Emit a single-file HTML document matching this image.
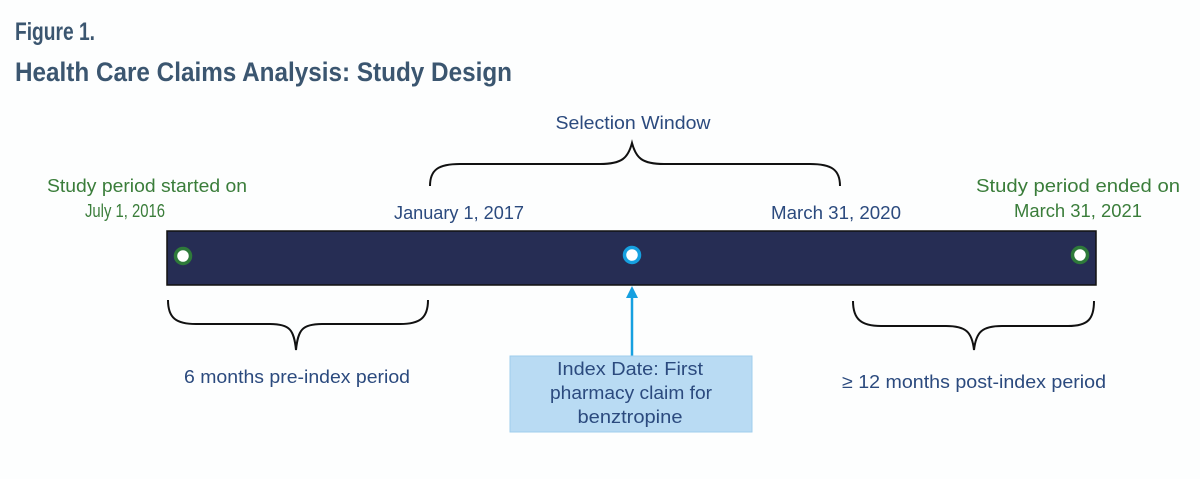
<!DOCTYPE html>
<html><head><style>
body{margin:0;background:#fdfefe;}
svg{display:block}
text{font-family:"Liberation Sans",sans-serif;}
</style></head><body>
<svg width="1200" height="479" viewBox="0 0 1200 479">
<rect width="1200" height="479" fill="#fdfefe"/>
<text x="15" y="40" font-size="25" font-weight="bold" fill="#3b5670" textLength="80" lengthAdjust="spacingAndGlyphs">Figure 1.</text>
<text x="15" y="81" font-size="27" font-weight="bold" fill="#3b5670" textLength="497" lengthAdjust="spacingAndGlyphs">Health Care Claims Analysis: Study Design</text>
<g font-size="18.5">
<text x="633" y="129" text-anchor="middle" fill="#2b4a7e" textLength="155" lengthAdjust="spacingAndGlyphs">Selection Window</text>
<text x="147" y="192" text-anchor="middle" fill="#3a7d3a" textLength="200" lengthAdjust="spacingAndGlyphs">Study period started on</text>
<text x="125" y="217" text-anchor="middle" fill="#3a7d3a" textLength="80" lengthAdjust="spacingAndGlyphs">July 1, 2016</text>
<text x="459" y="219" text-anchor="middle" fill="#2b4a7e" textLength="130" lengthAdjust="spacingAndGlyphs">January 1, 2017</text>
<text x="836" y="219" text-anchor="middle" fill="#2b4a7e" textLength="130" lengthAdjust="spacingAndGlyphs">March 31, 2020</text>
<text x="1078" y="192" text-anchor="middle" fill="#3a7d3a" textLength="204" lengthAdjust="spacingAndGlyphs">Study period ended on</text>
<text x="1078" y="217" text-anchor="middle" fill="#3a7d3a" textLength="128" lengthAdjust="spacingAndGlyphs">March 31, 2021</text>
<text x="297" y="383" text-anchor="middle" fill="#2b4a7e" textLength="226" lengthAdjust="spacingAndGlyphs">6 months pre-index period</text>
<text x="974" y="388" text-anchor="middle" fill="#2b4a7e" textLength="264" lengthAdjust="spacingAndGlyphs">≥ 12 months post-index period</text>
</g>
<path d="M430 186 C430 170 438 164 460 164 L600 164 C622 164 628 158 632 143 C636 158 642 164 664 164 L810 164 C832 164 840 170 840 186" fill="none" stroke="#111" stroke-width="2"/>
<rect x="167" y="231" width="929" height="54" fill="#262d54" stroke="#111" stroke-width="1.5"/>
<circle cx="183" cy="256" r="7.5" fill="#fff" stroke="#2e7a3a" stroke-width="3.5"/>
<circle cx="632" cy="255" r="7.5" fill="#fff" stroke="#16a0e0" stroke-width="3.5"/>
<circle cx="1080" cy="255" r="7.5" fill="#fff" stroke="#2e7a3a" stroke-width="3.5"/>
<path d="M168 300 C168 318 176 324 196 324 L270 324 C290 324 294 330 296 350 C298 330 302 324 322 324 L400 324 C420 324 428 318 428 300" fill="none" stroke="#111" stroke-width="2"/>
<path d="M853 301 C853 319 861 326 881 326 L946 326 C966 326 972 332 974 350 C976 332 982 326 1002 326 L1068 326 C1088 326 1094 319 1094 301" fill="none" stroke="#111" stroke-width="2"/>
<line x1="632" y1="357" x2="632" y2="298" stroke="#16a0e0" stroke-width="2.5"/>
<path d="M626 298 L632 286 L638 298 Z" fill="#16a0e0"/>
<rect x="510" y="356" width="242" height="76" fill="#b9dbf3" stroke="#9fcdec"/>
<g font-size="18.5" fill="#2b4a7e" text-anchor="middle">
<text x="630" y="375" textLength="146" lengthAdjust="spacingAndGlyphs">Index Date: First</text>
<text x="631" y="399" textLength="162" lengthAdjust="spacingAndGlyphs">pharmacy claim for</text>
<text x="630" y="423" textLength="105" lengthAdjust="spacingAndGlyphs">benztropine</text>
</g>
</svg>
</body></html>
